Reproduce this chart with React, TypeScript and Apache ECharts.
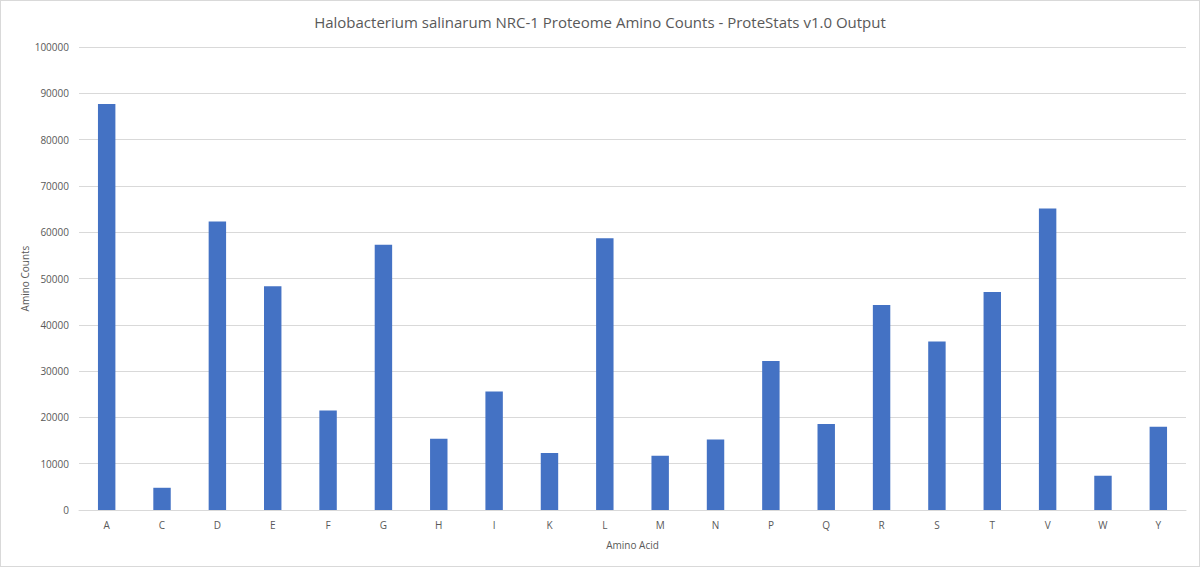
import React, { useEffect, useRef } from 'react';
import * as echarts from 'echarts';

const aminoAcids = ['A', 'C', 'D', 'E', 'F', 'G', 'H', 'I', 'K', 'L', 'M', 'N', 'P', 'Q', 'R', 'S', 'T', 'V', 'W', 'Y'];
const aminoCounts = [
    87700, 4800, 62300, 48300, 21500, 57300, 15400, 25600, 12300, 58700,
    11700, 15200, 32200, 18600, 44300, 36400, 47100, 65100, 7400, 18000,
];

const FONT = '"Open Sans", "Noto Sans", sans-serif';
const TEXT = '#595959';

const App: React.FC = () => {
    const chartRef = useRef<HTMLDivElement>(null);

    useEffect(() => {
        document.body.style.margin = '0';
        if (!chartRef.current) return;
        const chart = echarts.init(chartRef.current, undefined, { renderer: 'svg' });

        chart.setOption({
            animation: false,
            backgroundColor: '#ffffff',
            title: {
                text: 'Halobacterium salinarum NRC-1 Proteome Amino Counts - ProteStats v1.0 Output',
                left: 'center',
                top: 8,
                textStyle: { fontFamily: FONT, fontSize: 15, fontWeight: 'normal', color: TEXT },
            },
            grid: { left: 78, right: 13, top: 46, bottom: 56, containLabel: false },
            xAxis: {
                type: 'category',
                data: aminoAcids,
                name: 'Amino Acid',
                nameLocation: 'middle',
                nameGap: 30,
                nameTextStyle: { fontFamily: FONT, fontSize: 10, color: TEXT },
                axisLine: { lineStyle: { color: '#d9d9d9' } },
                axisTick: { show: false },
                axisLabel: { fontFamily: FONT, fontSize: 10, color: TEXT, margin: 10 },
            },
            yAxis: {
                type: 'value',
                min: 0,
                max: 100000,
                interval: 10000,
                name: 'Amino Counts',
                nameLocation: 'middle',
                nameGap: 49,
                nameMoveOverlap: false,
                nameTextStyle: { fontFamily: FONT, fontSize: 10, color: TEXT },
                axisLine: { show: false },
                axisTick: { show: false },
                axisLabel: {
                    fontFamily: FONT,
                    fontSize: 10,
                    color: TEXT,
                    margin: 10,
                    formatter: (value: number) => String(value),
                },
                splitLine: { lineStyle: { color: '#d9d9d9' } },
            },
            series: [
                {
                    type: 'bar',
                    data: aminoCounts,
                    barCategoryGap: '68.5%',
                    itemStyle: { color: '#4472c4' },
                },
            ],
        });

        return () => chart.dispose();
    }, []);

    return (
        <div
            ref={chartRef}
            style={{ width: 1198, height: 565, border: '1px solid #d9d9d9', background: '#fff' }}
        />
    );
};

export default App;
